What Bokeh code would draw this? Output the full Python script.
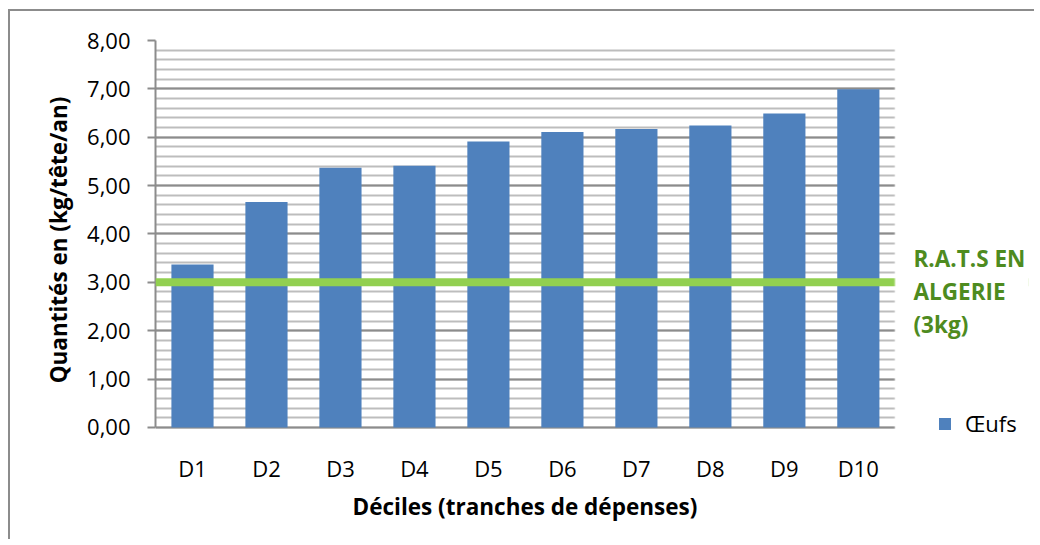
from bokeh.plotting import figure
from bokeh.models import (ColumnDataSource, FixedTicker, Span, Label, Legend,
                          LegendItem, Range1d, BoxAnnotation, Title)
from bokeh.embed import file_html
from bokeh.resources import INLINE

# ---- data ----
categories = ["D1", "D2", "D3", "D4", "D5", "D6", "D7", "D8", "D9", "D10"]
oeufs = [3.37, 4.66, 5.37, 5.41, 5.91, 6.11, 6.17, 6.24, 6.49, 6.99]
series_name = "Œufs"
rats_value = 3.0
rats_lines = ["R.A.T.S EN", "ALGERIE", "(3kg)"]
y_ticks = [0, 1, 2, 3, 4, 5, 6, 7, 8]
y_tick_labels = ["0,00", "1,00", "2,00", "3,00", "4,00", "5,00", "6,00", "7,00", "8,00"]
y_minor_ticks = [i / 5 for i in range(0, 41)]
y_title = "Quantités en (kg/tête/an)"
x_title = "Déciles (tranches de dépenses)"

FONT = "Open Sans"
BAR = "#4F81BD"
GRID_MAJOR = "#8c8c8c"
GRID_MINOR = "#bdbdbd"
GREEN_TEXT = "#4e8b1f"

n = len(categories)
x_end = 11.8
x_pos = [i + 0.5 for i in range(n)]          # category slot centres
src = ColumnDataSource(dict(x=x_pos, cat=categories, val=oeufs))

p = figure(x_range=Range1d(0, x_end), y_range=Range1d(-0.25, 8),
           frame_width=873, frame_height=399,
           min_border_left=145, min_border_right=6,
           min_border_top=29, min_border_bottom=100,
           output_backend="svg", toolbar_location=None)
p.styles = {"border-top": "2px solid #8c8c8c", "border-left": "2px solid #8c8c8c",
            "margin-top": "9px", "margin-left": "8px"}
p.outline_line_color = None
p.background_fill_color = "white"
p.border_fill_color = "white"

bars = p.vbar(x="x", top="val", width=0.57, source=src,
              fill_color=BAR, line_color=None)

# reference line
p.add_layout(Span(location=rats_value, dimension="width",
                  line_color="#92D050", line_width=8))

# grid
p.xgrid.visible = False
p.ygrid.grid_line_color = GRID_MAJOR
p.ygrid.grid_line_width = 2
p.ygrid.minor_grid_line_color = GRID_MINOR
p.ygrid.minor_grid_line_width = 2
for g in p.ygrid:
    if "cross_bounds" in g.properties():
        g.cross_bounds = (0, n)

# blank area right of the category slots (legend / note area)
p.add_layout(BoxAnnotation(left=n, right=x_end + 1, fill_color="white",
                           fill_alpha=1.0, line_color="white", line_width=3,
                           level="annotation"))

# y axis
p.yaxis.ticker = FixedTicker(ticks=y_ticks, minor_ticks=y_minor_ticks)
p.yaxis.major_label_overrides = {t: l for t, l in zip(y_ticks, y_tick_labels)}
p.yaxis.bounds = (0, 8)
p.yaxis.axis_line_color = GRID_MAJOR
p.yaxis.axis_line_width = 2
p.yaxis.major_tick_line_color = GRID_MAJOR
p.yaxis.major_tick_line_width = 2
p.yaxis.major_tick_out = 8
p.yaxis.major_tick_in = 0
p.yaxis.minor_tick_line_color = None
p.yaxis.major_label_standoff = 17
p.yaxis.major_label_text_font = FONT
p.yaxis.major_label_text_font_size = "22px"
p.yaxis.major_label_text_color = "black"
p.yaxis.axis_label = y_title
p.yaxis.axis_label_text_font = FONT
p.yaxis.axis_label_text_font_style = "bold"
p.yaxis.axis_label_text_font_size = "22.5px"
p.yaxis.axis_label_text_color = "black"
p.yaxis.axis_label_standoff = 10

# x axis (the y=0 major grid line serves as its line)
p.xaxis.ticker = FixedTicker(ticks=x_pos)
p.xaxis.major_label_overrides = {x: c for x, c in zip(x_pos, categories)}
p.xaxis.axis_line_color = None
p.xaxis.major_tick_line_color = None
p.xaxis.minor_tick_line_color = None
p.xaxis.major_label_standoff = 7
p.xaxis.major_label_text_font = FONT
p.xaxis.major_label_text_font_size = "22px"
p.xaxis.major_label_text_color = "black"

# x axis title, centred under the category slots
p.add_layout(Title(text=x_title, align="left", offset=197, standoff=6,
                   text_font=FONT, text_font_style="bold",
                   text_font_size="22.5px", text_color="black"), "below")

# green annotation text
for i, line in enumerate(rats_lines):
    p.add_layout(Label(x=758, y=181 - 33 * i, x_units="screen", y_units="screen",
                       text=line, text_baseline="middle", text_align="left",
                       text_font=FONT, text_font_style="bold",
                       text_font_size="22.5px", text_color=GREEN_TEXT))

# legend
legend = Legend(items=[LegendItem(label=series_name, renderers=[bars])],
                location=(782, 1), padding=0, margin=0,
                border_line_color=None, background_fill_alpha=0,
                glyph_width=15, glyph_height=15, label_height=27,
                label_standoff=13,
                label_text_font=FONT, label_text_font_size="22px",
                label_text_color="black")
p.add_layout(legend)

open("out.html", "w").write(file_html(p, INLINE))
